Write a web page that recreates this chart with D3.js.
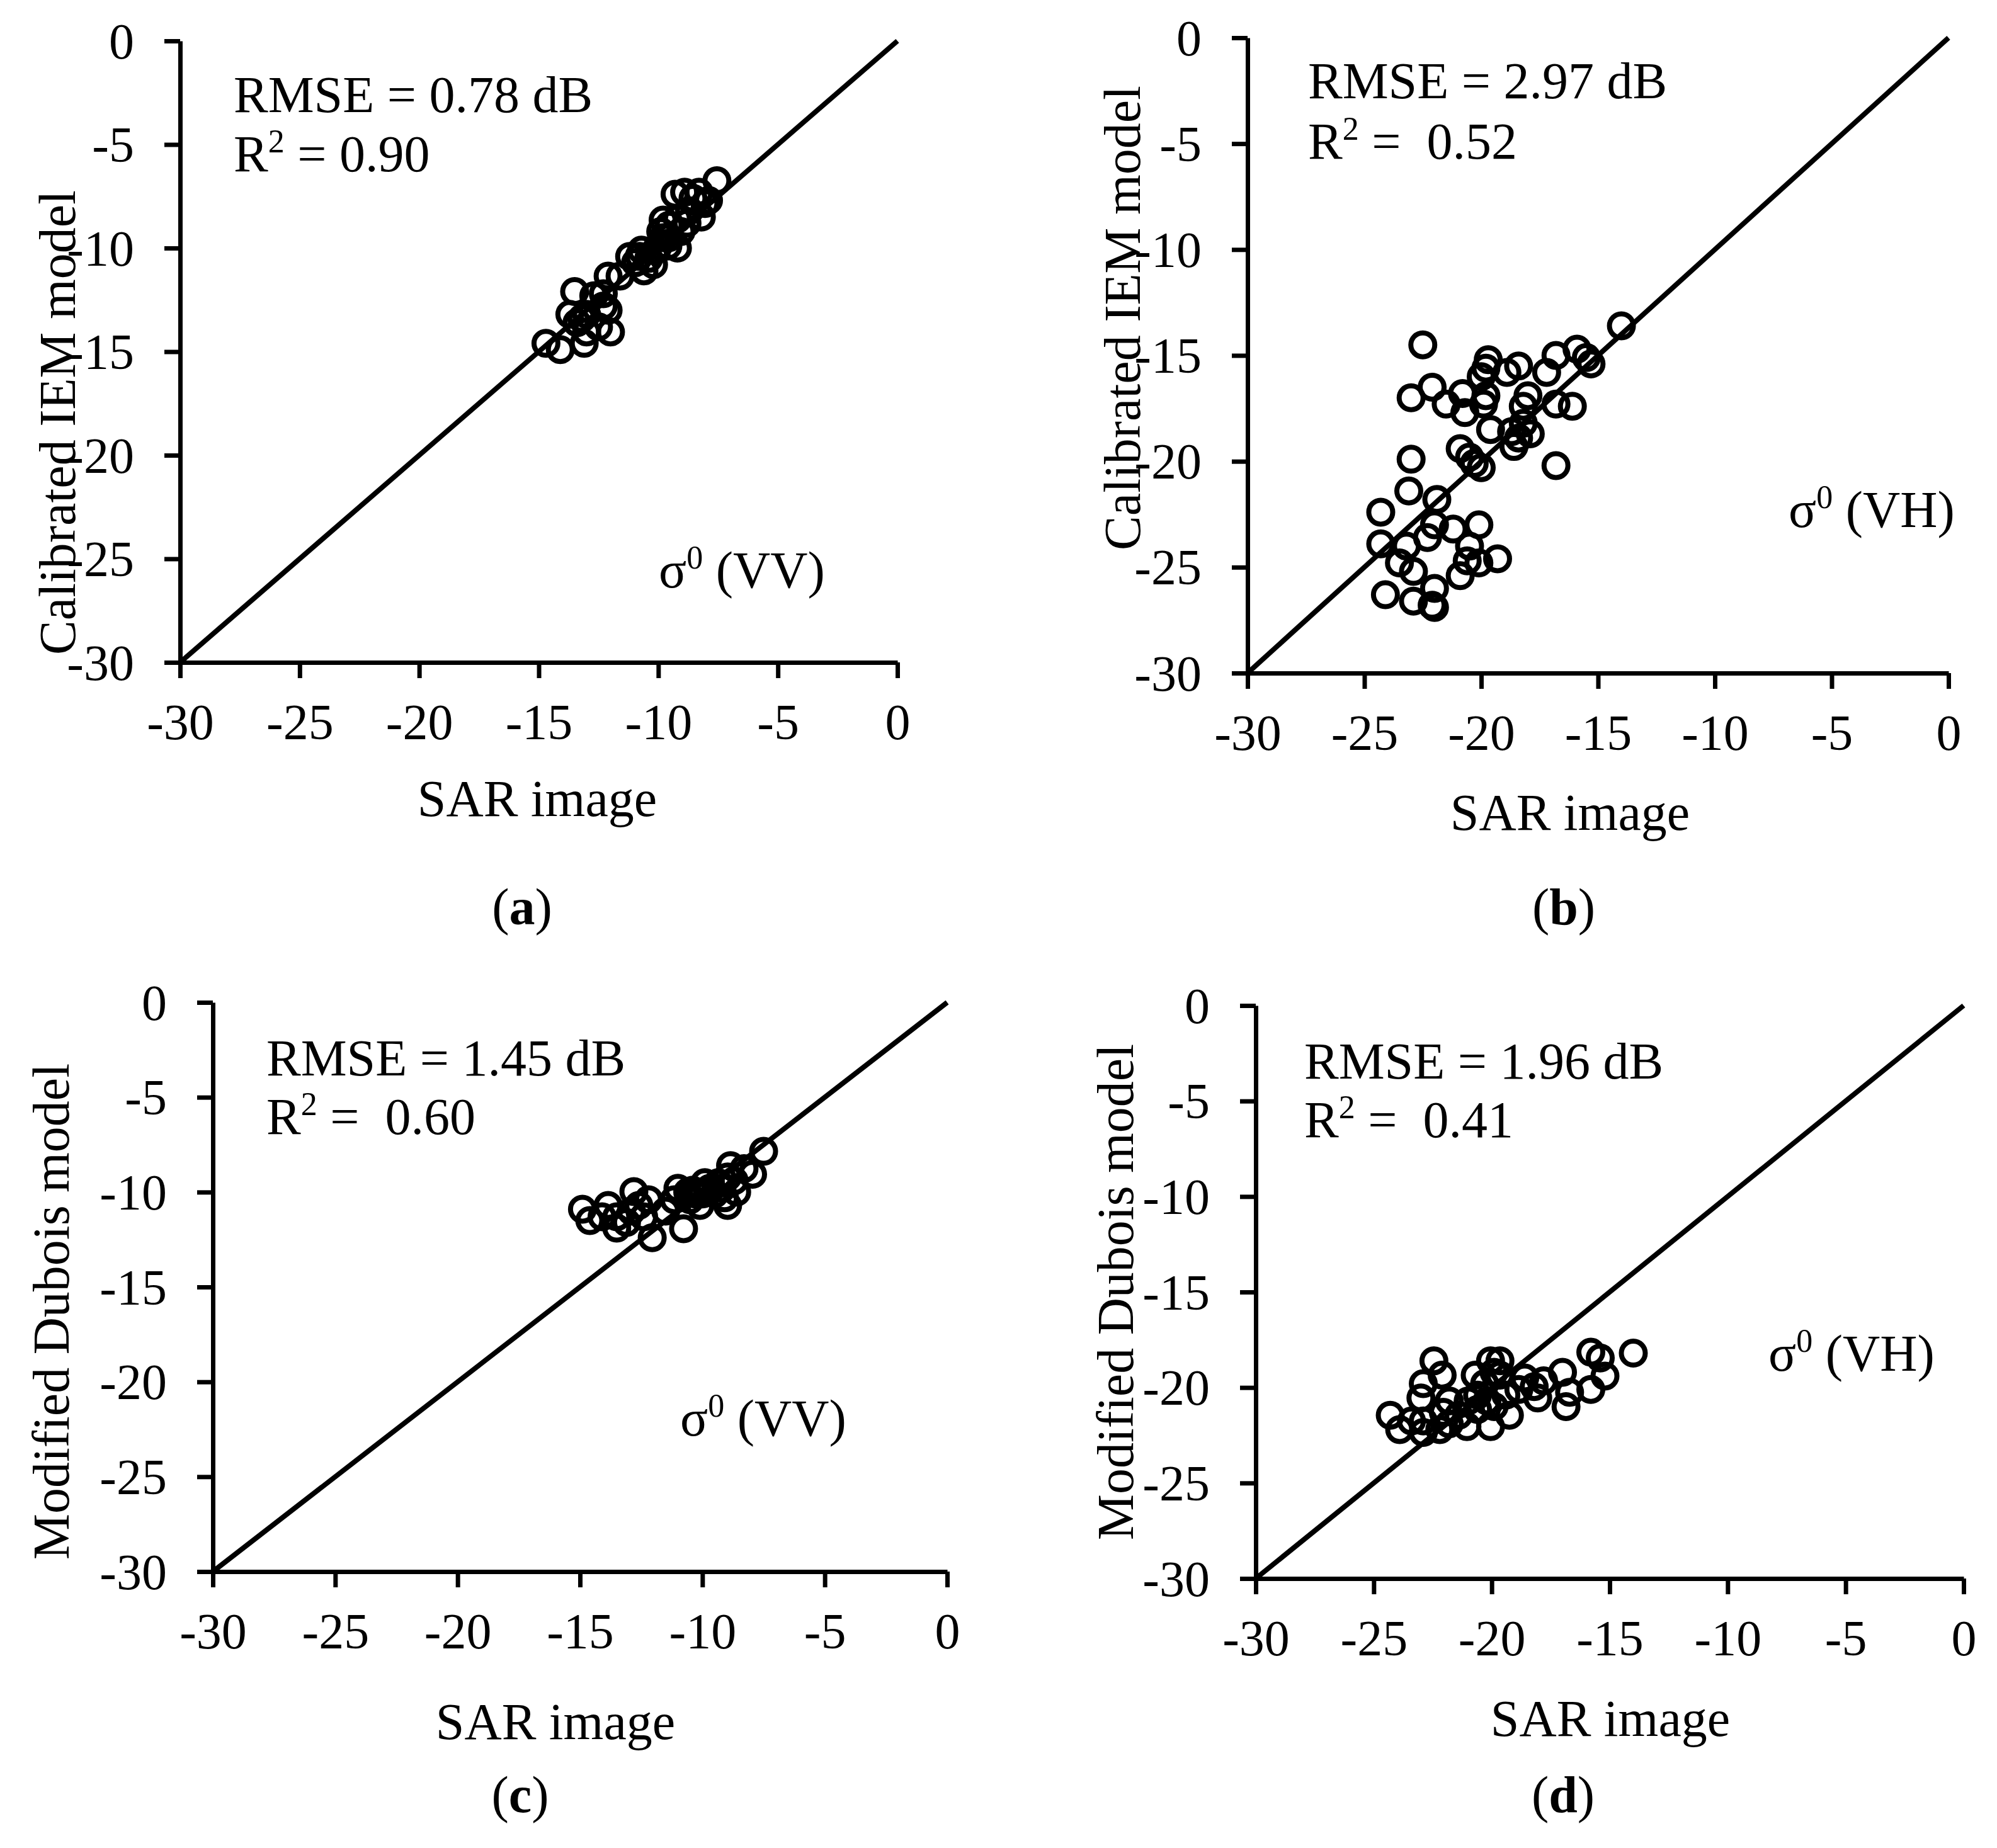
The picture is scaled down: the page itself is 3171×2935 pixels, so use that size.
<!DOCTYPE html>
<html>
<head>
<meta charset="utf-8">
<title>SAR image vs. backscatter models</title>
<script src="https://cdn.jsdelivr.net/npm/d3@7/dist/d3.min.js"></script>
<style>
  body { margin: 0; background: #fff; }
  svg text { font-family: "Liberation Serif", "Times New Roman", serif; fill: #000; }
</style>
</head>
<body>
<div id="canvas"></div>
<script>
// Shared axis settings (dB)
var axisDomain = [-30, 0];
var tickValues = [-30, -25, -20, -15, -10, -5, 0];

// (a) calibrated IEM, VV  -- [SAR image, model]
var iemVV = [
    [-14.7, -14.6], [-14.1, -14.9], [-13.5, -12.1], [-13.2, -13.4], [-13.7, -13.2],
    [-13.1, -14.6], [-13.0, -14.05], [-12.7, -12.3], [-12.3, -12.8], [-12.5, -13.8],
    [-12.1, -13.0], [-12.0, -14.05], [-12.3, -12.2], [-12.1, -11.35], [-11.6, -11.35],
    [-11.2, -10.4], [-10.95, -10.7], [-10.7, -10.1], [-10.6, -11.1], [-10.4, -10.5],
    [-10.1, -10.1], [-10.2, -10.8], [-10.8, -10.4], [-9.8, -9.5], [-9.8, -8.65],
    [-9.55, -8.9], [-9.2, -10.0], [-9.05, -9.2], [-9.3, -7.4], [-8.9, -7.3],
    [-8.7, -8.2], [-8.55, -7.6], [-8.3, -7.3], [-8.2, -8.5], [-8.05, -7.85],
    [-7.55, -6.75], [-7.9, -7.7], [-8.8, -8.8], [-9.2, -8.6], [-9.55, -9.5],
    [-13.0, -13.2], [-9.9, -9.2], [-10.0, -9.9], [-9.6, -9.9], [-13.4, -13.6]
];

// (b) calibrated IEM, VH
var iemVH = [
    [-14.0, -13.6], [-15.9, -14.7], [-15.5, -15.1], [-15.3, -15.4], [-16.8, -15.0],
    [-17.2, -15.8], [-16.1, -17.4], [-16.8, -17.3], [-16.8, -20.2], [-18.4, -15.5],
    [-18.9, -15.8], [-18.0, -16.9], [-18.2, -17.4], [-18.2, -18.2], [-18.7, -18.6],
    [-18.4, -18.9], [-18.6, -19.3], [-17.9, -18.7], [-19.7, -15.2], [-19.8, -15.6],
    [-20.0, -16.0], [-19.8, -16.9], [-19.9, -17.3], [-19.6, -18.5], [-20.8, -16.8],
    [-20.7, -17.7], [-21.5, -17.3], [-22.5, -14.5], [-22.1, -16.5], [-23.0, -17.0],
    [-20.9, -19.4], [-20.5, -19.8], [-20.0, -20.3], [-20.3, -20.1], [-23.0, -19.9],
    [-23.1, -21.4], [-21.9, -21.8], [-24.3, -22.4], [-24.3, -23.9], [-23.2, -24.0],
    [-23.5, -24.8], [-22.9, -25.2], [-24.1, -26.3], [-22.9, -26.6], [-22.0, -26.0],
    [-22.1, -26.8], [-22.0, -26.9], [-22.3, -23.6], [-22.0, -23.0], [-21.2, -23.2],
    [-20.9, -25.4], [-20.6, -24.7], [-20.5, -24.0], [-20.1, -23.0], [-20.1, -24.8],
    [-19.3, -24.6]
];

// (c) modified Dubois, VV
var duboisVV = [
    [-7.5, -7.85], [-7.95, -9.06], [-8.3, -8.76], [-8.85, -8.6], [-8.97, -9.2],
    [-9.2, -9.8], [-8.97, -10.7], [-9.5, -10.1], [-9.9, -9.5], [-10.3, -10.1],
    [-10.1, -10.7], [-10.6, -10.0], [-10.77, -11.93], [-11.0, -9.8], [-11.15, -10.4],
    [-11.5, -11.0], [-12.05, -12.4], [-12.2, -10.4], [-12.6, -10.7], [-12.8, -9.97],
    [-12.9, -11.0], [-13.1, -11.6], [-13.5, -11.3], [-13.5, -11.9], [-13.85, -10.7],
    [-14.1, -11.3], [-14.6, -11.5], [-14.9, -10.9], [-12.4, -11.3], [-10.5, -10.4],
    [-9.7, -9.8], [-9.35, -9.5], [-8.7, -9.4], [-8.6, -10.0], [-9.1, -10.3],
    [-10.2, -10.0], [-10.0, -10.1], [-9.8, -9.9], [-10.4, -9.9]
];

// (d) modified Dubois, VH
var duboisVH = [
    [-14.0, -18.2], [-15.4, -18.45], [-15.8, -18.15], [-15.2, -19.4], [-15.8, -20.1],
    [-16.7, -20.25], [-16.85, -21.0], [-17.0, -19.2], [-17.8, -19.65], [-18.05, -20.55],
    [-18.2, -19.95], [-18.6, -19.5], [-18.85, -20.1], [-19.25, -21.45], [-19.65, -18.6],
    [-19.9, -19.2], [-19.4, -20.4], [-19.9, -21.0], [-20.05, -22.05], [-20.3, -19.8],
    [-20.6, -20.4], [-20.6, -21.15], [-20.7, -19.35], [-21.0, -20.7], [-21.05, -22.05],
    [-21.4, -21.45], [-21.8, -20.7], [-22.05, -21.3], [-22.2, -22.2], [-22.1, -19.35],
    [-22.45, -18.6], [-22.9, -19.8], [-23.0, -20.55], [-22.9, -21.75], [-22.9, -22.35],
    [-23.4, -21.75], [-23.9, -22.2], [-24.3, -21.45], [-20.05, -18.6], [-19.65, -19.35],
    [-21.8, -21.9], [-20.2, -20.7]
];

// Annotation texts
var panelLetters = ["a", "b", "c", "d"];
var yTitles = ["Calibrated IEM model", "Calibrated IEM model", "Modified Dubois model", "Modified Dubois model"];
var xTitle = "SAR image";
var rmseValues = ["0.78", "2.97", "1.45", "1.96"];
var r2Values = ["0.90", "\u00a00.52", "\u00a00.60", "\u00a00.41"];
var polarisations = ["VV", "VH", "VV", "VH"];
var seriesList = [iemVV, iemVH, duboisVV, duboisVH];

// Layout of each panel in pixels (plot frame + text anchors)
var layout = [
    { left: 286, right: 1425, bottom: 1052, top: 65,
      statX: 371, rmseY: 178, r2Y: 272, polX: 1046, polY: 933,
      yTitleX: 119, yTitleY: 671, xTitleX: 853, xTitleY: 1296, letterX: 829, letterY: 1468 },
    { left: 1981, right: 3094, bottom: 1069, top: 60,
      statX: 2077, rmseY: 156, r2Y: 252, polX: 2840, polY: 837,
      yTitleX: 1810, yTitleY: 505, xTitleX: 2493, xTitleY: 1318, letterX: 2483, letterY: 1468 },
    { left: 338, right: 1504, bottom: 2496, top: 1592,
      statX: 423, rmseY: 1708, r2Y: 1801, polX: 1080, polY: 2280,
      yTitleX: 109, yTitleY: 2083, xTitleX: 882, xTitleY: 2762, letterX: 826, letterY: 2878 },
    { left: 1994, right: 3118, bottom: 2507, top: 1597,
      statX: 2071, rmseY: 1713, r2Y: 1806, polX: 2808, polY: 2177,
      yTitleX: 1799, yTitleY: 2052, xTitleX: 2557, xTitleY: 2757, letterX: 2482, letterY: 2878 }
];

var fontSize = 82;
var tickFontSize = 80;
var supSize = 52;
var axisWidth = 7;
var diagWidth = 8;
var tickLength = 25;
var markerRadius = 19;
var markerStroke = 8;

var canvas = d3.select("#canvas")
    .append("svg")
    .attr("width", 3171)
    .attr("height", 2935)
    .style("background", "#fff");

var fmt = function(d) { return String(d); };   // plain hyphen, like the original

var drawPanel = function(i) {
    var L = layout[i];
    var data = seriesList[i];

    var x = d3.scaleLinear().domain(axisDomain).range([L.left, L.right]);
    var y = d3.scaleLinear().domain(axisDomain).range([L.bottom, L.top]);

    var g = canvas.append("g").attr("class", "panel");

    // 1:1 line
    g.append("line")
        .attr("x1", x(axisDomain[0])).attr("y1", y(axisDomain[0]))
        .attr("x2", x(axisDomain[1])).attr("y2", y(axisDomain[1]))
        .style("stroke", "#000")
        .style("stroke-width", diagWidth);

    // open circle markers
    g.append("g")
        .selectAll("circle")
        .data(data)
        .enter()
        .append("circle")
        .attr("cx", function(d) { return x(d[0]); })
        .attr("cy", function(d) { return y(d[1]); })
        .attr("r", markerRadius)
        .style("fill", "none")
        .style("stroke", "#000")
        .style("stroke-width", markerStroke);

    // axes
    var gx = g.append("g")
        .attr("transform", "translate(0," + L.bottom + ")")
        .call(d3.axisBottom(x).tickValues(tickValues).tickSize(tickLength).tickSizeOuter(0).tickFormat(fmt));
    var gy = g.append("g")
        .attr("transform", "translate(" + L.left + ",0)")
        .call(d3.axisLeft(y).tickValues(tickValues).tickSize(tickLength).tickSizeOuter(0).tickFormat(fmt));

    [gx, gy].forEach(function(ax) {
        ax.attr("font-size", null).attr("font-family", null);
        ax.select(".domain").attr("stroke", "#000").attr("stroke-width", axisWidth);
        ax.selectAll(".tick line").attr("stroke", "#000").attr("stroke-width", axisWidth);
        ax.selectAll(".tick text").style("font-size", tickFontSize + "px");
    });
    gx.selectAll(".tick text").attr("y", 122).attr("dy", 0);
    gy.selectAll(".tick text").attr("x", -73).attr("dy", 27);

    // statistics
    g.append("text")
        .attr("x", L.statX).attr("y", L.rmseY)
        .style("font-size", fontSize + "px")
        .text("RMSE = " + rmseValues[i] + " dB");

    var r2 = g.append("text")
        .attr("x", L.statX).attr("y", L.r2Y)
        .style("font-size", fontSize + "px");
    r2.append("tspan").text("R");
    r2.append("tspan").attr("dy", -30).style("font-size", supSize + "px").text("2");
    r2.append("tspan").attr("dy", 30).text(" = " + r2Values[i]);

    // polarisation label
    var pol = g.append("text")
        .attr("x", L.polX).attr("y", L.polY)
        .style("font-size", fontSize + "px");
    pol.append("tspan").text("\u03c3");
    pol.append("tspan").attr("dy", -30).style("font-size", supSize + "px").text("0");
    pol.append("tspan").attr("dy", 30).text(" (" + polarisations[i] + ")");

    // axis titles
    g.append("text")
        .attr("transform", "translate(" + L.yTitleX + "," + L.yTitleY + ") rotate(-90)")
        .attr("text-anchor", "middle")
        .style("font-size", fontSize + "px")
        .text(yTitles[i]);

    g.append("text")
        .attr("x", L.xTitleX).attr("y", L.xTitleY)
        .attr("text-anchor", "middle")
        .style("font-size", fontSize + "px")
        .text(xTitle);

    // (a), (b) ...
    var lab = g.append("text")
        .attr("x", L.letterX).attr("y", L.letterY)
        .attr("text-anchor", "middle")
        .style("font-size", fontSize + "px");
    lab.append("tspan").text("(");
    lab.append("tspan").style("font-weight", "bold").text(panelLetters[i]);
    lab.append("tspan").text(")");
};

for (var i = 0; i < layout.length; i++) {
    drawPanel(i);
}
</script>
</body>
</html>
